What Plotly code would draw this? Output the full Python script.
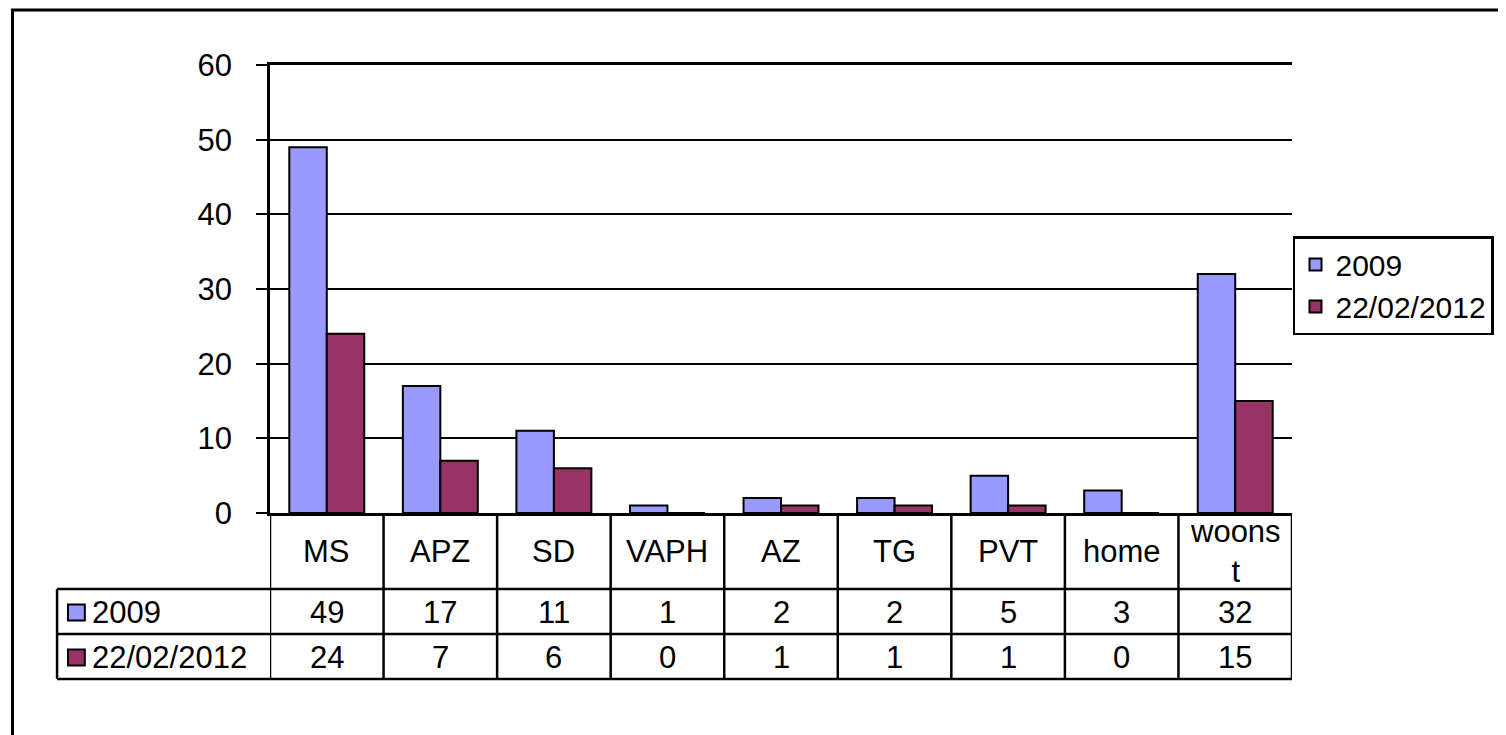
import plotly.graph_objects as go

categories = ["MS", "APZ", "SD", "VAPH", "AZ", "TG", "PVT", "home", "woons<br>t"]
series_names = ["2009", "22/02/2012"]
values_2009 = [49, 17, 11, 1, 2, 2, 5, 3, 32]
values_2012 = [24, 7, 6, 0, 1, 1, 1, 0, 15]
y_ticks = [0, 10, 20, 30, 40, 50, 60]
colors = ["#9999FF", "#993366"]

OFF = 8  # page body margin
W, H = 1506 - OFF, 735 - OFF
L, R, T, B = 270 - OFF, 1302 - OFF, 65 - OFF, 513 - OFF
pw, ph = R - L, B - T

def px(xp):
    return (xp - OFF - L) / pw

def py(yp):
    return (B - (yp - OFF)) / ph

FONT = "Liberation Sans, Arial, sans-serif"
FS = 31
LW = 2.5

x_idx = list(range(len(categories)))
fig = go.Figure()
for name, vals, col in zip(series_names, [values_2009, values_2012], colors):
    fig.add_trace(go.Bar(x=x_idx, y=vals, name=name,
                         marker=dict(color=col, line=dict(color="black", width=2))))

shapes = []
# outer frame
shapes.append(dict(type="rect", xref="paper", yref="paper", x0=px(10), x1=px(1520), y0=py(10), y1=py(750),
                   line=dict(color="black", width=3), layer="below"))
# table rows
row_y = [513, 589, 634, 679]
for yy in row_y[1:]:
    shapes.append(dict(type="line", xref="paper", yref="paper", x0=px(55), x1=1, y0=py(yy), y1=py(yy),
                       line=dict(color="black", width=LW)))
# vertical lines
for i in range(len(categories) + 1):
    shapes.append(dict(type="line", xref="x", yref="paper", x0=i - 0.5, x1=i - 0.5, y0=0, y1=py(679),
                       line=dict(color="black", width=LW)))
shapes.append(dict(type="line", xref="paper", yref="paper", x0=px(55), x1=px(55), y0=py(589), y1=py(679),
                   line=dict(color="black", width=LW)))

annotations = []
for i, c in enumerate(categories):
    annotations.append(dict(x=i, y=py((513 + 589) / 2), xref="x", yref="paper", text=c, showarrow=False,
                            font=dict(family=FONT, size=FS, color="black"), xanchor="center", yanchor="middle"))
for rowi, (vals, name, col) in enumerate(zip([values_2009, values_2012], series_names, colors)):
    yc = (row_y[rowi + 1] + row_y[rowi + 2]) / 2
    for i, v in enumerate(vals):
        annotations.append(dict(x=i, y=py(yc + 1), xref="x", yref="paper", text=str(v), showarrow=False,
                                font=dict(family=FONT, size=FS, color="black"), xanchor="center", yanchor="middle"))
    shapes.append(dict(type="rect", xref="paper", yref="paper", x0=px(66), x1=px(83), y0=py(yc - 7), y1=py(yc + 9),
                       fillcolor=col, line=dict(color="black", width=2)))
    annotations.append(dict(x=px(88), y=py(yc + 1), xref="paper", yref="paper", text=name, showarrow=False,
                            font=dict(family=FONT, size=FS, color="black"), xanchor="left", yanchor="middle"))

fig.update_layout(
    width=W, height=H,
    margin=dict(l=L, r=W - R, t=T, b=H - B),
    paper_bgcolor="white", plot_bgcolor="white",
    barmode="group", bargap=0.34, bargroupgap=0,
    font=dict(family=FONT, size=FS, color="black"),
    xaxis=dict(range=[-0.5, len(categories) - 0.5], showticklabels=False, showgrid=False, zeroline=False,
               showline=True, mirror=True, linecolor="black", linewidth=LW, ticks=""),
    yaxis=dict(range=[0, 60], tickvals=y_ticks, showgrid=True, gridcolor="black", gridwidth=2,
               showline=True, linecolor="black", linewidth=LW, ticks="outside", ticklen=11, tickwidth=2,
               tickcolor="black", zeroline=False, ticklabelstandoff=18,
               tickfont=dict(family=FONT, size=FS, color="black")),
    legend=dict(x=px(1303), y=py(236), xanchor="left", yanchor="top", bordercolor="black", borderwidth=2.5,
                bgcolor="white", font=dict(family=FONT, size=30, color="black"), tracegroupgap=0),
    shapes=shapes, annotations=annotations,
)

fig.write_html("out.html")
